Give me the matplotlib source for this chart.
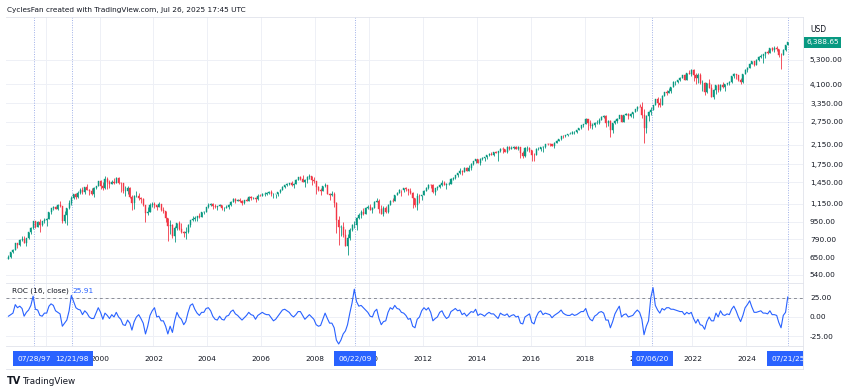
import numpy as np
import pandas as pd
import matplotlib
matplotlib.use("Agg")
import matplotlib.pyplot as plt
import matplotlib.dates as mdates
from matplotlib.transforms import blended_transform_factory, Bbox, TransformedBbox

# ---------------- data (monthly, Aug 1996 .. Jul 2025) ----------------
first_open = 639.95
close = [
    651.99, 687.33, 705.27, 757.02, 740.74,
    786.16, 790.82, 757.12, 801.34, 848.28, 885.14, 954.29, 899.47, 947.28, 914.62, 955.40, 970.43,
    980.28, 1049.34, 1101.75, 1111.75, 1090.82, 1133.84, 1120.67, 957.28, 1017.01, 1098.67, 1163.63, 1229.23,
    1279.64, 1238.33, 1286.37, 1335.18, 1301.84, 1372.71, 1328.72, 1320.41, 1282.71, 1362.93, 1388.91, 1469.25,
    1394.46, 1366.42, 1498.58, 1452.43, 1420.60, 1454.60, 1430.83, 1517.68, 1436.51, 1429.40, 1314.95, 1320.28,
    1366.01, 1239.94, 1160.33, 1249.46, 1255.82, 1224.42, 1211.23, 1133.58, 1040.94, 1059.78, 1139.45, 1148.08,
    1130.20, 1106.73, 1147.39, 1076.92, 1067.14, 989.82, 911.62, 916.07, 815.28, 885.76, 936.31, 879.82,
    855.70, 841.15, 848.18, 916.92, 963.59, 974.50, 990.31, 1008.01, 995.97, 1050.71, 1058.20, 1111.92,
    1131.13, 1144.94, 1126.21, 1107.30, 1120.68, 1140.84, 1101.72, 1104.24, 1114.58, 1130.20, 1173.82, 1211.92,
    1181.27, 1203.60, 1180.59, 1156.85, 1191.50, 1191.33, 1234.18, 1220.33, 1228.81, 1207.01, 1249.48, 1248.29,
    1280.08, 1280.66, 1294.83, 1310.61, 1270.09, 1270.20, 1276.66, 1303.82, 1335.85, 1377.94, 1400.63, 1418.30,
    1438.24, 1406.82, 1420.86, 1482.37, 1530.62, 1503.35, 1455.27, 1473.99, 1526.75, 1549.38, 1481.14, 1468.36,
    1378.55, 1330.63, 1322.70, 1385.59, 1400.38, 1280.00, 1267.38, 1282.83, 1166.36, 968.75, 896.24, 903.25,
    825.88, 735.09, 797.87, 872.81, 919.14, 919.32, 987.48, 1020.62, 1057.08, 1036.19, 1095.63, 1115.10,
    1073.87, 1104.49, 1169.43, 1186.69, 1089.41, 1030.71, 1101.60, 1049.33, 1141.20, 1183.26, 1180.55, 1257.64,
    1286.12, 1327.22, 1325.83, 1363.61, 1345.20, 1320.64, 1292.28, 1218.89, 1131.42, 1253.30, 1246.96, 1257.60,
    1312.41, 1365.68, 1408.47, 1397.91, 1310.33, 1362.16, 1379.32, 1406.58, 1440.67, 1412.16, 1416.18, 1426.19,
    1498.11, 1514.68, 1569.19, 1597.57, 1630.74, 1606.28, 1685.73, 1632.97, 1681.55, 1756.54, 1805.81, 1848.36,
    1782.59, 1859.45, 1872.34, 1883.95, 1923.57, 1960.23, 1930.67, 2003.37, 1972.29, 2018.05, 2067.56, 2058.90,
    1994.99, 2104.50, 2067.89, 2085.51, 2107.39, 2063.11, 2103.84, 1972.18, 1920.03, 2079.36, 2080.41, 2043.94,
    1940.24, 1932.23, 2059.74, 2065.30, 2096.95, 2098.86, 2173.60, 2170.95, 2168.27, 2126.15, 2198.81, 2238.83,
    2278.87, 2363.64, 2362.72, 2384.20, 2411.80, 2423.41, 2470.30, 2471.65, 2519.36, 2575.26, 2647.58, 2673.61,
    2823.81, 2713.83, 2640.87, 2648.05, 2705.27, 2718.37, 2816.29, 2901.52, 2913.98, 2711.74, 2760.17, 2506.85,
    2704.10, 2784.49, 2834.40, 2945.83, 2752.06, 2941.76, 2980.38, 2926.46, 2976.74, 3037.56, 3140.98, 3230.78,
    3225.52, 2954.22, 2584.59, 2912.43, 3044.31, 3100.29, 3271.12, 3500.31, 3363.00, 3269.96, 3621.63, 3756.07,
    3714.24, 3811.15, 3972.89, 4181.17, 4204.11, 4297.50, 4395.26, 4522.68, 4307.54, 4605.38, 4567.00, 4766.18,
    4515.55, 4373.94, 4530.41, 4131.93, 4132.15, 3785.38, 4130.29, 3955.00, 3585.62, 3871.98, 4080.11, 3839.50,
    4076.60, 3970.15, 4109.31, 4169.48, 4179.83, 4450.38, 4588.96, 4507.66, 4288.05, 4193.80, 4567.80, 4769.83,
    4845.65, 5096.27, 5254.35, 5035.69, 5277.51, 5460.48, 5522.30, 5648.40, 5762.48, 5705.45, 6032.38, 5881.63,
    6040.53, 5954.50, 5611.85, 5569.06, 5911.69, 6204.95, 6388.65,
]
high = [
    670.7, 690.9, 714.1, 762.3, 761.8,
    794.7, 817.7, 814.9, 804.1, 851.9, 898.7, 957.7, 961.0, 960.5, 983.1, 963.3, 986.3,
    992.7, 1050.0, 1105.7, 1124.0, 1124.4, 1142.0, 1190.6, 1121.0, 1066.1, 1102.2, 1192.0, 1244.9,
    1280.0, 1283.8, 1316.2, 1362.8, 1375.9, 1376.8, 1420.3, 1352.6, 1357.7, 1373.2, 1397.0, 1473.1,
    1478.0, 1444.6, 1552.9, 1527.2, 1481.5, 1488.9, 1517.3, 1525.2, 1530.1, 1454.8, 1438.5, 1389.1,
    1383.4, 1376.9, 1267.4, 1269.3, 1315.9, 1286.6, 1239.8, 1226.3, 1135.5, 1110.6, 1160.3, 1173.6,
    1176.6, 1130.2, 1173.0, 1147.8, 1106.6, 1070.7, 994.5, 965.0, 924.0, 907.4, 941.8, 954.3,
    935.1, 864.6, 895.9, 924.2, 965.4, 1015.3, 1015.4, 1011.0, 1040.3, 1053.8, 1063.7, 1112.6,
    1155.4, 1158.8, 1163.2, 1150.6, 1127.7, 1146.3, 1140.8, 1109.1, 1131.5, 1142.1, 1188.5, 1217.3,
    1217.9, 1212.4, 1229.1, 1191.9, 1199.6, 1219.6, 1245.2, 1245.9, 1243.1, 1233.3, 1270.6, 1275.8,
    1294.9, 1297.6, 1310.9, 1318.2, 1326.7, 1290.7, 1280.4, 1306.7, 1340.3, 1389.5, 1407.9, 1431.8,
    1441.6, 1461.6, 1438.9, 1498.0, 1535.6, 1540.6, 1555.9, 1503.9, 1538.7, 1576.1, 1545.1, 1523.6,
    1471.8, 1396.0, 1359.7, 1397.0, 1440.2, 1404.1, 1292.2, 1313.2, 1303.0, 1167.0, 1007.5, 918.9,
    943.9, 877.9, 833.0, 888.7, 930.2, 956.2, 996.7, 1039.5, 1080.2, 1101.4, 1113.7, 1130.4,
    1150.5, 1112.4, 1180.2, 1219.8, 1205.1, 1131.2, 1121.0, 1129.2, 1148.7, 1196.1, 1227.1, 1262.6,
    1302.7, 1344.1, 1332.3, 1366.6, 1370.6, 1345.2, 1356.5, 1307.4, 1229.3, 1292.7, 1277.6, 1269.4,
    1333.5, 1378.0, 1419.2, 1422.4, 1415.3, 1363.5, 1391.7, 1426.7, 1474.5, 1471.0, 1434.3, 1448.0,
    1509.9, 1530.9, 1570.3, 1597.6, 1687.2, 1654.2, 1698.8, 1709.7, 1730.0, 1765.7, 1813.6, 1849.4,
    1850.8, 1867.9, 1884.0, 1897.3, 1924.0, 1968.2, 1991.4, 2005.0, 2019.3, 2018.2, 2075.8, 2093.6,
    2064.4, 2119.6, 2117.5, 2125.9, 2134.7, 2129.9, 2132.8, 2112.7, 2021.0, 2094.3, 2116.5, 2104.3,
    2038.2, 1963.0, 2072.2, 2111.1, 2099.1, 2120.6, 2177.1, 2193.8, 2187.9, 2169.6, 2214.1, 2277.5,
    2301.0, 2371.5, 2401.1, 2398.2, 2418.7, 2453.8, 2484.0, 2490.9, 2519.4, 2583.0, 2657.7, 2695.0,
    2872.9, 2836.0, 2801.9, 2717.5, 2742.2, 2791.5, 2848.0, 2916.5, 2940.9, 2939.9, 2815.2, 2800.2,
    2709.0, 2813.5, 2860.3, 2949.5, 2954.1, 2964.2, 3028.0, 3013.6, 3022.0, 3050.1, 3154.3, 3247.9,
    3337.8, 3393.5, 3136.7, 2954.9, 3068.7, 3233.1, 3280.0, 3514.8, 3588.1, 3549.9, 3646.0, 3760.2,
    3870.9, 3950.4, 3983.9, 4218.8, 4238.0, 4302.4, 4430.0, 4537.4, 4545.9, 4608.1, 4743.8, 4808.9,
    4818.6, 4595.3, 4637.3, 4593.5, 4307.7, 4177.5, 4140.2, 4325.3, 4119.3, 3905.4, 4080.1, 4101.0,
    4094.2, 4195.4, 4110.8, 4170.1, 4231.1, 4458.5, 4607.1, 4584.6, 4541.3, 4393.6, 4587.6, 4793.3,
    4931.1, 5111.1, 5264.9, 5264.0, 5341.9, 5505.5, 5669.7, 5651.6, 5767.4, 5878.5, 6044.2, 6100.0,
    6128.2, 6147.4, 5986.1, 5695.3, 5968.6, 6215.1, 6395.8,
]
low = [
    639.7, 649.1, 684.9, 703.8, 716.7,
    737.0, 773.4, 756.1, 733.5, 793.2, 835.0, 882.6, 893.0, 899.5, 855.3, 910.0, 934.4,
    912.8, 980.8, 1032.9, 1075.8, 1086.6, 1074.4, 1112.4, 939.9, 939.4, 923.3, 1094.1, 1136.9,
    1205.5, 1211.9, 1226.0, 1282.8, 1281.4, 1281.4, 1328.8, 1268.0, 1268.4, 1233.7, 1351.2, 1385.8,
    1350.1, 1325.1, 1346.6, 1339.4, 1361.1, 1420.6, 1416.5, 1431.0, 1419.4, 1305.8, 1294.9, 1254.1,
    1274.6, 1228.9, 1081.2, 1091.9, 1232.0, 1203.0, 1165.5, 1124.9, 944.8, 1026.8, 1054.3, 1114.8,
    1101.5, 1074.4, 1106.7, 1063.5, 1048.0, 952.9, 775.7, 833.4, 800.2, 768.6, 872.0, 871.8,
    840.3, 806.3, 788.9, 847.8, 902.8, 963.0, 962.1, 960.8, 990.4, 995.9, 1031.2, 1053.4,
    1105.1, 1124.4, 1087.2, 1105.1, 1076.3, 1118.1, 1078.8, 1060.7, 1101.3, 1090.2, 1127.6, 1173.3,
    1163.8, 1180.1, 1176.9, 1136.2, 1146.2, 1188.3, 1183.6, 1201.1, 1205.4, 1168.2, 1201.1, 1246.6,
    1245.7, 1253.6, 1268.4, 1280.7, 1245.3, 1219.3, 1224.5, 1253.7, 1290.9, 1327.1, 1361.0, 1385.9,
    1404.0, 1389.4, 1364.0, 1416.4, 1476.7, 1484.2, 1454.3, 1370.6, 1439.3, 1489.6, 1406.1, 1435.7,
    1270.1, 1316.8, 1257.0, 1312.6, 1373.1, 1272.0, 1200.4, 1247.5, 1106.4, 839.8, 741.0, 815.7,
    804.5, 734.5, 666.8, 783.3, 866.1, 888.9, 869.3, 978.5, 992.0, 1020.0, 1029.4, 1085.9,
    1071.6, 1044.5, 1105.4, 1170.7, 1040.8, 1028.3, 1010.9, 1039.7, 1048.1, 1131.9, 1173.0, 1186.6,
    1257.6, 1289.1, 1249.1, 1299.2, 1311.8, 1258.1, 1282.9, 1101.5, 1114.2, 1074.8, 1158.7, 1202.4,
    1258.9, 1312.4, 1340.0, 1357.4, 1292.0, 1266.7, 1325.4, 1354.7, 1396.6, 1403.3, 1343.4, 1398.1,
    1426.2, 1485.0, 1501.5, 1536.0, 1581.3, 1560.3, 1604.6, 1627.5, 1633.4, 1646.5, 1746.2, 1768.0,
    1770.5, 1737.9, 1834.4, 1814.4, 1859.8, 1916.0, 1930.7, 1904.8, 1964.0, 1820.7, 2001.0, 1972.6,
    1988.1, 1980.9, 2039.7, 2048.4, 2067.9, 2056.3, 2044.0, 1867.0, 1871.9, 1893.7, 2019.4, 1993.3,
    1812.3, 1810.1, 1937.1, 2033.8, 2025.9, 1991.7, 2074.0, 2147.6, 2119.1, 2114.7, 2083.8, 2187.4,
    2245.1, 2271.7, 2322.3, 2329.0, 2352.7, 2405.7, 2407.7, 2417.4, 2446.6, 2520.4, 2557.5, 2605.5,
    2682.4, 2532.7, 2585.9, 2553.8, 2594.6, 2698.7, 2692.0, 2795.1, 2864.1, 2603.5, 2631.1, 2346.6,
    2444.0, 2681.8, 2722.3, 2848.6, 2750.5, 2728.8, 2952.2, 2822.1, 2891.9, 2855.9, 3050.7, 3070.3,
    3214.6, 2855.8, 2191.9, 2447.5, 2766.6, 2965.7, 3101.2, 3284.5, 3209.5, 3233.9, 3279.7, 3633.4,
    3662.7, 3725.6, 3723.3, 3992.8, 4056.9, 4164.4, 4233.1, 4367.7, 4305.9, 4278.9, 4560.0, 4495.1,
    4222.6, 4114.7, 4157.9, 4124.3, 3810.3, 3636.9, 3721.6, 3954.5, 3584.1, 3491.6, 3698.2, 3764.5,
    3794.3, 3943.1, 3808.9, 4049.4, 4048.3, 4166.2, 4385.1, 4335.3, 4238.6, 4103.8, 4167.2, 4546.5,
    4682.1, 4853.9, 5056.8, 4953.6, 5011.1, 5234.3, 5390.9, 5119.3, 5402.6, 5674.0, 5696.5, 5832.3,
    5773.3, 5837.7, 5488.7, 4835.0, 5578.6, 5861.4, 6201.0,
]
roc = [
    1, 3, 5, 16, 12,
    14, 11, 1, 6, 9, 15, 27, 10, 9, 2, 1, 5,
    5, 14, 17, 15, 8, 6, 4, -12, -8, -4, 8, 28,
    20, 12, 10, 9, 3, 8, 5, 0, -2, -2, 5, 12,
    6, -3, 5, 2, -2, 3, 0, 6, 0, -3, -10, -11,
    -4, -8, -17, -6, 0, 3, -2, -8, -22, -12, 2, 8,
    12, 0, 1, -5, -5, -12, -22, -12, -20, -5, 6, 0,
    -3, -10, -6, 6, 15, 17, 10, 5, 2, 6, 6, 11,
    12, 8, 1, -3, -4, 1, -3, -4, 1, 2, 7, 9,
    4, 2, -1, -4, -1, 2, 6, 3, 2, -3, 2, 4,
    6, 4, 3, 3, -1, -5, -3, 1, 5, 9, 10, 8,
    6, 2, 0, 3, 7, 7, 2, -3, 0, 3, 0, -3,
    -10, -12, -11, -3, 5, -2, -8, -8, -14, -30, -35, -30,
    -22, -18, -10, 5, 18, 36, 20, 14, 15, 12, 9, 6,
    1, 0, 7, 10, -2, -10, -6, -5, 6, 12, 10, 15,
    11, 10, 6, 5, 2, -3, -2, -12, -14, -3, 0, 8,
    12, 9, 12, 6, -5, -2, 0, 6, 8, 2, -2, 0,
    7, 9, 11, 8, 9, 3, 5, 1, 4, 7, 6, 10,
    2, 4, 3, 1, 4, 6, 4, 4, 1, -2, 5, 3,
    2, 4, 0, 2, 3, 0, 1, -8, -9, 0, 2, 4,
    -7, -9, 0, 6, 8, 3, 5, 4, 3, -1, 2, 4,
    6, 9, 5, 3, 2, 2, 4, 2, 3, 5, 7, 7,
    11, 2, -3, -5, 1, 3, 6, 7, 5, -4, -4, -14,
    -6, 4, 9, 14, 0, 3, 4, 0, 1, 2, 6, 9,
    6, -3, -23, -12, -5, 25, 38, 15, 9, 5, 11, 9,
    12, 12, 10, 10, 9, 8, 7, 7, 3, 6, 4, 6,
    -2, -8, -3, -10, -11, -16, -6, 0, -5, -5, 5, 0,
    8, 3, 2, 4, 3, 10, 14, 8, 0, -6, 2, 12,
    16, 21, 13, 6, 6, 7, 8, 5, 5, 4, 8, 3,
    3, 2, -7, -14, 2, 6, 25.91,
]
start_month = "1996-08-01"
price_ticks = [540, 650, 790, 950, 1150, 1450, 1750, 2150, 2750, 3350, 4100, 5300]
roc_ticks = [25, 0, -25]
year_ticks = list(range(1998, 2026, 2))
marker_dates = ["1997-07-28", "1998-12-21", "2009-06-22", "2020-07-06", "2025-07-21"]
marker_labels = ["07/28/97", "12/21/98", "06/22/09", "07/06/20", "07/21/25"]
last_price = 6388.65
last_roc = 25.91

# ---------------- styling ----------------
UP = "#089981"
DOWN = "#F23645"
BLUE = "#2962FF"
GRID = "#EEF0F6"
TXT = "#131722"
plt.rcParams["font.family"] = ["DejaVu Sans"]

W, H = 847, 389
fig = plt.figure(figsize=(W / 100, H / 100), dpi=100)
fig.patch.set_facecolor("white")


def px_axes(x0, y0, x1, y1):
    return fig.add_axes([x0 / W, 1 - y1 / H, (x1 - x0) / W, (y1 - y0) / H])


ax = px_axes(6, 17, 803, 283)
axr = px_axes(6, 283, 803, 346)

dates = pd.date_range(start_month, periods=len(close), freq="MS") + pd.Timedelta(days=14)
xd = mdates.date2num(dates)
opens = np.array([first_open] + close[:-1])
closes = np.array(close)
colors = np.where(closes >= opens, UP, DOWN)

ax.vlines(xd, low, high, colors=colors, lw=0.6, zorder=3)
ax.bar(xd, np.abs(closes - opens), bottom=np.minimum(opens, closes), width=14,
       color=colors, edgecolor=colors, linewidth=0.3, zorder=4)


def year_to_num(y):
    base = pd.Timestamp(int(y), 1, 1)
    return mdates.date2num(base) + (y - int(y)) * 365.25


xlim = (year_to_num(1996.53), year_to_num(2026.10))

ax.set_yscale("log")
ax.set_ylim(496, 8368)
ax.set_xlim(*xlim)
ax.set_yticks(price_ticks)
ax.yaxis.set_minor_locator(matplotlib.ticker.NullLocator())
ax.set_yticklabels([f"{v:,.2f}" for v in price_ticks])
ax.yaxis.tick_right()
ax.tick_params(axis="y", length=0, pad=5, labelsize=5.3, labelcolor=TXT)
ax.set_xticks([mdates.date2num(pd.Timestamp(y, 1, 1)) for y in year_ticks])
ax.tick_params(axis="x", length=0, labelbottom=False)
ax.grid(True, color=GRID, lw=0.7, zorder=0)
for s in ax.spines.values():
    s.set_visible(False)

axr.plot(xd, roc, color=BLUE, lw=0.8, zorder=3)
axr.axhline(25, color="#8A8D96", lw=0.7, ls=(0, (3, 3)), zorder=2)
axr.set_ylim(-37.6, 44.0)
axr.set_xlim(*xlim)
axr.set_yticks(roc_ticks)
axr.set_yticklabels([f"{v:.2f}" for v in roc_ticks])
axr.yaxis.tick_right()
axr.tick_params(axis="y", length=0, pad=5, labelsize=5.3, labelcolor=TXT)
axr.set_xticks([mdates.date2num(pd.Timestamp(y, 1, 1)) for y in year_ticks])
axr.tick_params(axis="x", length=0, labelbottom=False)
axr.grid(True, color=GRID, lw=0.7, zorder=0)
for s in axr.spines.values():
    s.set_visible(False)

# panel separators
for yy in (17, 283, 346, 369):
    fig.add_artist(plt.Line2D([6 / W, 803 / W], [1 - yy / H, 1 - yy / H], color="#E0E3EB", lw=0.6))
fig.add_artist(plt.Line2D([803 / W, 803 / W], [1 - 17 / H, 1 - 369 / H], color="#E0E3EB", lw=0.6))

# year labels
tr = blended_transform_factory(axr.transData, fig.transFigure)
for y in year_ticks:
    axr.text(mdates.date2num(pd.Timestamp(y, 1, 1)), 1 - 359 / H, str(y), transform=tr,
             ha="center", va="center", fontsize=5.3, color=TXT, clip_on=False, zorder=5)

# marker lines and date boxes (clipped to the chart's time area)
clipbox = TransformedBbox(Bbox([[6 / W, 0], [803 / W, 1]]), fig.transFigure)
for d, lab in zip(marker_dates, marker_labels):
    xn = mdates.date2num(pd.Timestamp(d))
    for a in (ax, axr):
        a.axvline(xn, color="#9FB0E8", lw=0.7, ls=(0, (1, 1.5)), zorder=2)
    t = axr.text(xn, 1 - 358.5 / H, lab, transform=tr, ha="center", va="center", fontsize=5.3,
                 color="white", zorder=10,
                 bbox=dict(boxstyle="square,pad=0.55", fc=BLUE, ec="none"))
    t.set_clip_on(True)
    t.set_clip_box(clipbox)
    t.get_bbox_patch().set_clip_box(clipbox)
    t.get_bbox_patch().set_clip_on(True)

# last price label
ax.text(1.0 + 3 / 797, last_price, f"{last_price:,.2f}",
        transform=blended_transform_factory(ax.transAxes, ax.transData),
        ha="left", va="center", fontsize=5.3, color="white", clip_on=False, zorder=10,
        bbox=dict(boxstyle="square,pad=0.3", fc=UP, ec="none"))
fig.text(818 / W, 1 - 30 / H, "USD", ha="center", va="center", fontsize=5.5, color=TXT)

# ROC legend
fig.text(12 / W, 1 - 291 / H, "ROC (16, close)", ha="left", va="center", fontsize=5.3, color=TXT)
fig.text(72 / W, 1 - 291 / H, f"{last_roc:.2f}", ha="left", va="center", fontsize=5.3, color=BLUE)

# header and footer
fig.text(7 / W, 1 - 10 / H, "CyclesFan created with TradingView.com, Jul 26, 2025 17:45 UTC",
         ha="left", va="center", fontsize=5.3, color=TXT)
fig.text(7 / W, 1 - 381 / H, "TV", ha="left", va="center", fontsize=7, color=TXT, fontweight="heavy")
fig.text(22 / W, 1 - 381 / H, "TradingView", ha="left", va="center", fontsize=6.3, color=TXT)

fig.savefig("out.png", dpi=100, facecolor="white")
